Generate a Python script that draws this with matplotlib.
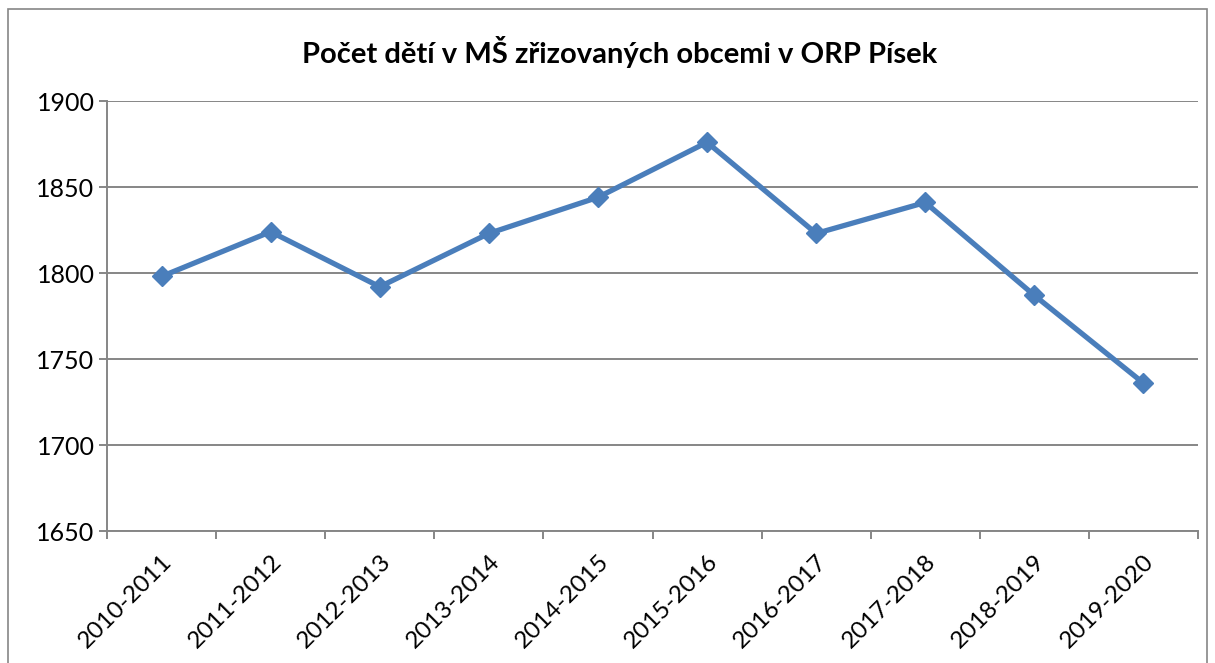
import matplotlib
matplotlib.use("Agg")
import matplotlib.pyplot as plt
from matplotlib.patches import Rectangle

categories = ["2010-2011", "2011-2012", "2012-2013", "2013-2014", "2014-2015",
              "2015-2016", "2016-2017", "2017-2018", "2018-2019", "2019-2020"]
values = [1798, 1824, 1792, 1823, 1844, 1876, 1823, 1841, 1787, 1736]
y_ticks = [1650, 1700, 1750, 1800, 1850, 1900]
title = "Počet dětí v MŠ zřizovaných obcemi v ORP Písek"

plt.rcParams['font.family'] = ['Lato', 'DejaVu Sans']

W, H = 1215, 663
fig = plt.figure(figsize=(W / 100, H / 100), dpi=100)
fig.patch.set_facecolor("white")

grey = "#868686"
# outer chart border
fig.add_artist(Rectangle((8 / W, -0.05), (1207 - 8) / W, 1 - 9 / H + 0.05,
                         transform=fig.transFigure, fill=False,
                         edgecolor=grey, linewidth=1.2))

ax = fig.add_axes([107 / W, 1 - 531 / H, (1198 - 107) / W, (531 - 101) / H])
x = list(range(len(categories)))
ax.plot(x, values, color="#4A7EBB", linewidth=3.8, marker="D", markersize=10.5,
        markerfacecolor="#4A7EBB", markeredgecolor="#4A7EBB", zorder=3)

ax.set_xlim(-0.5, len(categories) - 0.5)
ax.set_ylim(1650, 1900)
ax.set_yticks(y_ticks)
ax.set_yticklabels([str(v) for v in y_ticks], fontsize=18)
ax.yaxis.grid(True, color=grey, linewidth=1.4)
ax.set_axisbelow(True)

ax.set_xticks(x)
ax.set_xticklabels(categories, rotation=45, ha="right", rotation_mode="anchor", fontsize=17.5)
ax.set_xticks([i - 0.5 for i in range(len(categories) + 1)], minor=True)
ax.tick_params(axis="x", which="major", length=0, pad=14)
ax.tick_params(axis="x", which="minor", length=6, color=grey, width=1.4)
ax.tick_params(axis="y", length=6, color=grey, width=1.4, pad=3)

for s in ["top", "right"]:
    ax.spines[s].set_visible(False)
for s in ["left", "bottom"]:
    ax.spines[s].set_color(grey)
    ax.spines[s].set_linewidth(1.4)

fig.text(620 / W, 1 - 52 / H, title, ha="center", va="center",
         fontsize=21, fontweight="bold")

fig.savefig("out.png", dpi=100)
